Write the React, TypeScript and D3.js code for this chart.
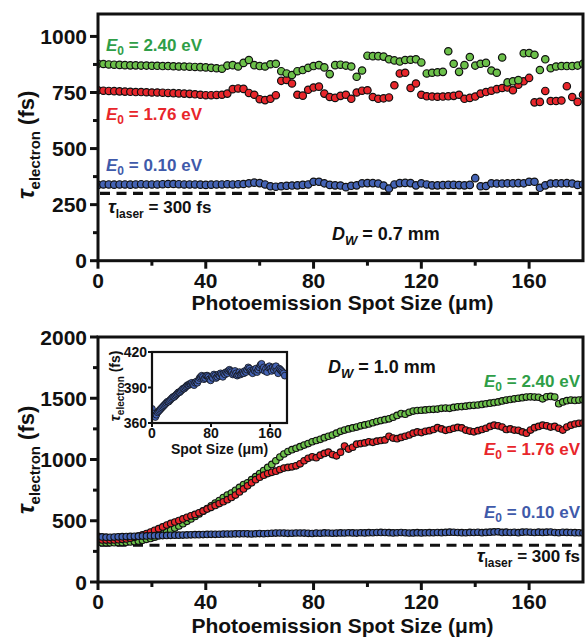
import React from 'react';
import * as d3 from 'd3';

// ---------- DATA ----------
const spotTop = d3.range(0, 181, 2);
const greenTop = [
  878, 877, 875, 874, 873, 872, 871, 871, 870, 870, 869, 869, 868, 868, 867, 866, 866, 865, 864, 863, 862, 860, 858, 856,
  870, 872, 866, 882, 895, 872, 868, 866, 876, 878, 845, 835, 828, 845, 850, 860, 868, 872, 862, 832, 872, 874, 870, 866,
  820, 848, 914, 912, 912, 910, 898, 893, 888, 895, 896, 898, 884, 835, 838, 840, 842, 934, 878, 842, 872, 908, 870, 878,
  882, 848, 838, 906, 795, 800, 805, 925, 926, 918, 850, 898, 858, 866, 868, 868, 868, 870, 878,
];
const redTop = [
  760, 758, 757, 756, 755, 754, 753, 752, 752, 751, 750, 750, 749, 748, 747, 746, 745, 744, 742, 740, 738, 738, 739, 740,
  745, 765, 768, 766, 748, 740, 720, 716, 722, 738, 802, 806, 790, 740, 736, 762, 772, 776, 745, 730, 726, 735, 740, 722,
  750, 758, 760, 730, 722, 724, 728, 782, 835, 838, 770, 790, 740, 733, 732, 731, 732, 733, 735, 740, 722, 726, 732, 745,
  752, 758, 765, 770, 772, 760, 785, 800, 815, 706, 708, 757, 712, 712, 714, 778, 730, 708, 740,
];
const blueTop = [
  338, 340, 340, 339, 340, 340, 339, 340, 341, 340,
  340, 340, 341, 342, 342, 341, 340, 340, 340, 339,
  338, 339, 340, 340, 341, 340, 341, 342, 345, 348,
  346, 340, 332, 330, 332, 334, 335, 336, 338, 340,
  352, 352, 345, 338, 336, 335, 328, 334, 336, 345,
  346, 346, 344, 335, 322, 340, 346, 347, 346, 336,
  345, 340, 336, 336, 337, 338, 338, 337, 336, 338,
  368, 332, 333, 345, 344, 344, 345, 345, 346, 345,
  352, 352, 325, 336, 344, 345, 345, 346, 344, 338, 340,
];

const spotBottom = d3.range(0, 180.1, 1.5);
const greenBottom = [
  322, 321, 320, 320, 321, 322, 323, 325, 327, 330,
  335, 340, 348, 356, 366, 378, 392, 408, 424, 440,
  458, 476, 495, 515, 535, 556, 578, 600, 622, 645,
  665, 690, 710, 726, 748, 772, 795, 810, 835, 860,
  885, 910, 935, 960, 990, 1020, 1045, 1065, 1080, 1092,
  1105, 1118, 1130, 1145, 1155, 1165, 1178, 1190, 1200, 1215,
  1230, 1240, 1250, 1258, 1265, 1275, 1282, 1290, 1300, 1310,
  1318, 1325, 1332, 1345, 1360, 1375, 1370, 1385, 1395, 1400,
  1402, 1405, 1408, 1410, 1412, 1418, 1420, 1418, 1425, 1430,
  1432, 1435, 1440, 1442, 1445, 1450, 1455, 1460, 1465, 1470,
  1478, 1485, 1490, 1495, 1500, 1505, 1510, 1512, 1510, 1508,
  1495, 1512, 1515, 1510, 1455, 1470, 1480, 1485, 1482, 1485,
  1488,
];
const redBottom = [
  345, 343, 342, 342, 343, 345, 348, 352, 358, 365,
  375, 385, 395, 408, 422, 435, 450, 465, 478, 490,
  502, 515, 528, 540, 552, 565, 580, 595, 610, 625,
  640, 655, 672, 690, 710, 735, 760, 785, 810, 835,
  855, 872, 885, 895, 905, 918, 930, 935, 940, 948,
  965, 990, 1010, 1022, 1015, 1035, 1050, 1060, 1040, 1030,
  1060, 1110, 1085, 1100, 1125, 1130, 1135, 1145, 1140, 1150,
  1155, 1160, 1190, 1175, 1170, 1180, 1190, 1200, 1215, 1225,
  1220, 1230, 1235, 1245, 1260, 1250, 1238, 1245, 1255, 1262,
  1258, 1240, 1232, 1226, 1235, 1245, 1255, 1270, 1280, 1275,
  1265, 1245, 1250, 1240, 1238, 1225, 1215, 1240, 1260, 1270,
  1280, 1275, 1265, 1270, 1255, 1240, 1265, 1280, 1290, 1295,
  1298,
];
const blueBottom = [
  372, 368, 366, 365, 367, 369, 370, 371, 372, 373,
  374, 375, 376, 377, 378, 378, 379, 380, 381, 382,
  382, 383, 384, 385, 386, 386, 387, 388, 389, 389,
  390, 391, 392, 392, 393, 393, 394, 393, 392, 394,
  395, 394, 396, 398, 399, 400, 399, 397, 398, 400,
  400, 399, 397, 396, 399, 398, 401, 400, 398, 399,
  401, 400, 402, 401, 399, 402, 401, 403, 402, 404,
  405, 404, 403, 401, 402, 404, 402, 400, 401, 403,
  401, 402, 403, 402, 404, 403, 405, 407, 406, 404,
  403, 402, 405, 404, 406, 403, 405, 407, 409, 410,
  405, 407, 404, 406, 403, 407, 408, 406, 404, 407,
  405, 407, 408, 404, 402, 406, 405, 404, 403, 402,
  400,
];

const xTicks = [0, 40, 80, 120, 160];
const xMinor = [20, 60, 100, 140];
const yTicksTop = [0, 250, 500, 750, 1000];
const yMinorTop = [125, 375, 625, 875];
const yTicksBottom = [0, 500, 1000, 1500, 2000];
const yMinorBottom = [250, 750, 1250, 1750];
const insetXTicks = [0, 80, 160];
const insetYTicks = [360, 390, 420];
const laserPulse = 300;

// ---------- STYLE ----------
const FONT = "'Liberation Sans', Arial, Helvetica, sans-serif";
const GREEN = '#6cc04a';
const GREEN_T = '#2f9e48';
const RED = '#e8262b';
const RED_T = '#e8262b';
const BLUE = '#4463b4';
const BLUE_T = '#3f5aaa';

type Series = { xs: number[]; ys: number[]; color: string };

function Dots({ s, x, y, r, sw }: { s: Series; x: any; y: any; r: number; sw: number }) {
  return (
    <g>
      {s.ys.map((v, i) => (
        <circle key={i} cx={x(s.xs[i])} cy={y(v)} r={r} fill={s.color} stroke="#111" strokeWidth={sw} />
      ))}
    </g>
  );
}

function E0({ x, y, value, color, anchor = 'start' }: any) {
  return (
    <text x={x} y={y} fill={color} fontSize={17} fontWeight="bold" fontFamily={FONT} textAnchor={anchor}>
      <tspan fontStyle="italic">E</tspan>
      <tspan dy={4} fontSize={12}>0</tspan>
      <tspan dy={-4}>{` = ${value} eV`}</tspan>
    </text>
  );
}

function Laser({ x, y, anchor = 'start' }: any) {
  return (
    <text x={x} y={y} fill="#111" fontSize={17} fontWeight="bold" fontFamily={FONT} textAnchor={anchor}>
      <tspan fontStyle="italic" fontSize={19}>τ</tspan>
      <tspan dy={5} fontSize={12}>laser</tspan>
      <tspan dy={-5}>{` = ${laserPulse} fs`}</tspan>
    </text>
  );
}

function Dw({ x, y, value }: any) {
  return (
    <text x={x} y={y} fill="#111" fontSize={18} fontWeight="bold" fontFamily={FONT}>
      <tspan fontStyle="italic">D</tspan>
      <tspan dy={5} fontSize={13} fontStyle="italic">W</tspan>
      <tspan dy={-5}>{` = ${value} mm`}</tspan>
    </text>
  );
}

function YTitle({ cx, cy, size = 22, sub = 15, shift = 6 }: any) {
  return (
    <text
      transform={`translate(${cx},${cy}) rotate(-90)`}
      textAnchor="middle"
      fontSize={size}
      fontWeight="bold"
      fontFamily={FONT}
      fill="#111"
    >
      <tspan fontStyle="italic" fontSize={size * 1.1}>τ</tspan>
      <tspan dy={shift} fontSize={sub}>electron</tspan>
      <tspan dy={-shift}>{' (fs)'}</tspan>
    </text>
  );
}

function Panel({
  top, bottom, yMax, yTicks, yMinor, series, r, sw, clipId, children, titleY, yTitleCy,
}: any) {
  const left = 98;
  const right = 583;
  const x = d3.scaleLinear().domain([0, 180]).range([left, right]);
  const y = d3.scaleLinear().domain([0, yMax]).range([bottom, top]);
  return (
    <g>
      <defs>
        <clipPath id={clipId}>
          <rect x={left} y={top} width={right - left} height={bottom - top} />
        </clipPath>
      </defs>
      <line
        x1={left + 2} x2={right} y1={y(laserPulse)} y2={y(laserPulse)}
        stroke="#111" strokeWidth={3.2} strokeDasharray="10,6.5"
      />
      <g clipPath={`url(#${clipId})`}>
        {series.map((s: Series, i: number) => (
          <Dots key={i} s={s} x={x} y={y} r={r} sw={sw} />
        ))}
      </g>
      {/* frame */}
      <rect x={left} y={top} width={right - left} height={bottom - top} fill="none" stroke="#111" strokeWidth={3} />
      {/* y ticks */}
      {yTicks.map((t: number) => (
        <g key={t}>
          <line x1={left - 8} x2={left} y1={y(t)} y2={y(t)} stroke="#111" strokeWidth={3} />
          <text x={left - 11} y={y(t)} dy="0.36em" textAnchor="end" fontSize={21} fontWeight="bold" fontFamily={FONT} fill="#111">
            {t}
          </text>
        </g>
      ))}
      {yMinor.map((t: number) => (
        <line key={t} x1={left - 5} x2={left} y1={y(t)} y2={y(t)} stroke="#111" strokeWidth={3} />
      ))}
      {xTicks.map((t) => (
        <g key={t}>
          <line x1={x(t)} x2={x(t)} y1={bottom} y2={bottom + 8} stroke="#111" strokeWidth={3} />
          <text x={x(t)} y={bottom + 27} textAnchor="middle" fontSize={21} fontWeight="bold" fontFamily={FONT} fill="#111">
            {t}
          </text>
        </g>
      ))}
      {xMinor.map((t) => (
        <line key={t} x1={x(t)} x2={x(t)} y1={bottom} y2={bottom + 5} stroke="#111" strokeWidth={3} />
      ))}
      <text x={(left + right) / 2 + 2} y={titleY} textAnchor="middle" fontSize={21} fontWeight="bold" fontFamily={FONT} fill="#111">
        Photoemission Spot Size (μm)
      </text>
      <YTitle cx={34} cy={yTitleCy} />
      {children}
    </g>
  );
}

function Inset() {
  const left = 152;
  const right = 287;
  const top = 352;
  const bottom = 423;
  const x = d3.scaleLinear().domain([0, 183]).range([left, right]);
  const y = d3.scaleLinear().domain([360, 420]).range([bottom, top]);
  return (
    <g>
      <rect x={left} y={top} width={right - left} height={bottom - top} fill="#fff" />
      <defs>
        <clipPath id="insetClip">
          <rect x={left} y={top} width={right - left} height={bottom - top} />
        </clipPath>
      </defs>
      <g clipPath="url(#insetClip)">
        {blueBottom.map((v, i) => (
          <circle key={i} cx={x(spotBottom[i])} cy={y(v)} r={3.4} fill={BLUE} stroke="#111" strokeWidth={0.8} />
        ))}
      </g>
      <rect x={left} y={top} width={right - left} height={bottom - top} fill="none" stroke="#111" strokeWidth={2.2} />
      {insetYTicks.map((t) => (
        <g key={t}>
          <line x1={left - 4} x2={left} y1={y(t)} y2={y(t)} stroke="#111" strokeWidth={2} />
          <text x={left - 5} y={y(t)} dy="0.36em" textAnchor="end" fontSize={14} fontWeight="bold" fontFamily={FONT} fill="#111">
            {t}
          </text>
        </g>
      ))}
      {insetXTicks.map((t) => (
        <g key={t}>
          <line x1={x(t)} x2={x(t)} y1={bottom} y2={bottom + 4} stroke="#111" strokeWidth={2} />
          <text x={x(t)} y={bottom + 15} textAnchor="middle" fontSize={14} fontWeight="bold" fontFamily={FONT} fill="#111">
            {t}
          </text>
        </g>
      ))}
      <text x={(left + right) / 2} y={bottom + 31} textAnchor="middle" fontSize={14} fontWeight="bold" fontFamily={FONT} fill="#111">
        Spot Size (μm)
      </text>
      <YTitle cx={120} cy={386} size={14} sub={10} shift={4} />
    </g>
  );
}

export default function App() {
  const topSeries: Series[] = [
    { xs: spotTop, ys: redTop, color: RED },
    { xs: spotTop, ys: greenTop, color: GREEN },
    { xs: spotTop, ys: blueTop, color: BLUE },
  ];
  const bottomSeries: Series[] = [
    { xs: spotBottom, ys: greenBottom, color: GREEN },
    { xs: spotBottom, ys: redBottom, color: RED },
    { xs: spotBottom, ys: blueBottom, color: BLUE },
  ];
  return (
    <svg width={585} height={637} style={{ position: 'absolute', left: 0, top: 0, background: '#fff' }}>
      <Panel
        top={14} bottom={260.7} yMax={1100} yTicks={yTicksTop} yMinor={yMinorTop}
        series={topSeries} r={3.7} sw={1.2} clipId="clipTop" titleY={310} yTitleCy={145}
      >
        <E0 x={106} y={51} value="2.40" color={GREEN_T} />
        <E0 x={106} y={120} value="1.76" color={RED_T} />
        <E0 x={106} y={171} value="0.10" color={BLUE_T} />
        <Laser x={108} y={213} />
        <Dw x={332} y={240} value="0.7" />
      </Panel>
      <Panel
        top={337} bottom={582} yMax={2000} yTicks={yTicksBottom} yMinor={yMinorBottom}
        series={bottomSeries} r={3.3} sw={1.1} clipId="clipBottom" titleY={633} yTitleCy={460}
      >
        <Inset />
        <E0 x={580} y={387} value="2.40" color={GREEN_T} anchor="end" />
        <E0 x={580} y={455} value="1.76" color={RED_T} anchor="end" />
        <E0 x={580} y={518} value="0.10" color={BLUE_T} anchor="end" />
        <Laser x={580} y={562} anchor="end" />
        <Dw x={328} y={373} value="1.0" />
      </Panel>
    </svg>
  );
}
